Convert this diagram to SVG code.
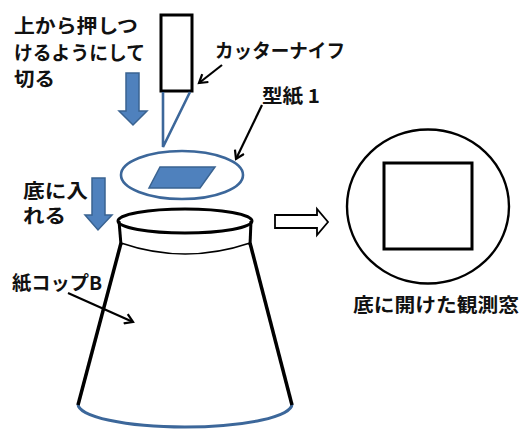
<svg xmlns="http://www.w3.org/2000/svg" width="524" height="429" viewBox="0 0 524 429">
  <style>
    .lbl { font-family: "Noto Sans CJK JP", "Noto Sans", sans-serif; font-weight: bold; font-size: 19px; fill: #111; }
    .blk { fill: none; stroke: #000; stroke-width: 3; }
    .thin { fill: none; stroke: #000; stroke-width: 1.6; }
    .lead { fill: none; stroke: #000; stroke-width: 2.2; }
    .blue { fill: none; stroke: #3C679A; stroke-width: 2.6; }
    .bfill { fill: #4F81BD; stroke: #3A6391; stroke-width: 1.5; }
  </style>
  <defs>
    <marker id="open" markerWidth="12" markerHeight="12" refX="9" refY="6" orient="auto" markerUnits="userSpaceOnUse">
      <path d="M1,1 L9,6 L1,11" fill="none" stroke="#000" stroke-width="2.2"/>
    </marker>
  </defs>

  <!-- cutter knife -->
  <g id="cutter">
    <rect x="161" y="15" width="31" height="76" class="blk"/>
    <polyline points="163,92 163,147 190,92" class="blue"/>
  </g>

  <!-- pattern sheet on the blue outline -->
  <g id="pattern">
    <ellipse cx="182" cy="175" rx="61" ry="24" class="blue"/>
    <polygon points="160,167 215,167 200,188 149,188" class="bfill"/>
  </g>

  <!-- paper cup -->
  <g id="cup">
    <path d="M78,404 A107,23 0 0 0 292,404" fill="none" stroke="#3C679A" stroke-width="3"/>
    <line x1="121" y1="243" x2="78" y2="405" stroke="#000" stroke-width="3.5"/>
    <line x1="250" y1="243" x2="292" y2="405" stroke="#000" stroke-width="3.5"/>
    <line x1="119" y1="221" x2="121" y2="245" class="blk"/>
    <line x1="251" y1="221" x2="250" y2="245" class="blk"/>
    <path d="M121,243 Q185,265 250,243" class="thin"/>
    <ellipse cx="185" cy="221" rx="67" ry="12" class="blk"/>
  </g>

  <!-- observation window -->
  <g id="window">
    <ellipse cx="428" cy="206.5" rx="81" ry="77" fill="none" stroke="#000" stroke-width="2.4"/>
    <rect x="384" y="163" width="88" height="86" class="blk"/>
  </g>

  <!-- arrows and leaders -->
  <g id="connectors">
    <polygon points="126,73 139,73 139,111 147,111 133,125 119,111 126,111" class="bfill"/>
    <polygon points="92,178 105,178 105,215 112,215 98,230 85,215 92,215" class="bfill"/>
    <polygon points="275,215 317,215 317,209 328,222 317,235 317,228 275,228" fill="#fff" stroke="#000" stroke-width="1.8"/>
    <line x1="222" y1="65" x2="199" y2="83" class="lead" marker-end="url(#open)"/>
    <line x1="262" y1="105" x2="236" y2="159" class="lead" marker-end="url(#open)"/>
    <line x1="68" y1="293" x2="133" y2="322" class="lead" marker-end="url(#open)"/>
  </g>

  <!-- labels -->
  <g id="labels">
    <text class="lbl" x="14" y="33" textLength="124" lengthAdjust="spacingAndGlyphs">上から押しつ</text>
    <text class="lbl" x="14" y="60" textLength="131" lengthAdjust="spacingAndGlyphs">けるようにして</text>
    <text class="lbl" x="14" y="86" textLength="41" lengthAdjust="spacingAndGlyphs">切る</text>
    <text class="lbl" x="215" y="58" textLength="130" lengthAdjust="spacingAndGlyphs">カッターナイフ</text>
    <text class="lbl" x="262" y="103" textLength="58" lengthAdjust="spacingAndGlyphs">型紙 1</text>
    <text class="lbl" x="23" y="198" textLength="65" lengthAdjust="spacingAndGlyphs">底に入</text>
    <text class="lbl" x="23" y="223" textLength="43" lengthAdjust="spacingAndGlyphs">れる</text>
    <text class="lbl" x="12" y="290" textLength="90" lengthAdjust="spacingAndGlyphs">紙コップB</text>
    <text class="lbl" x="353" y="312" textLength="166" lengthAdjust="spacingAndGlyphs">底に開けた観測窓</text>
  </g>
</svg>
